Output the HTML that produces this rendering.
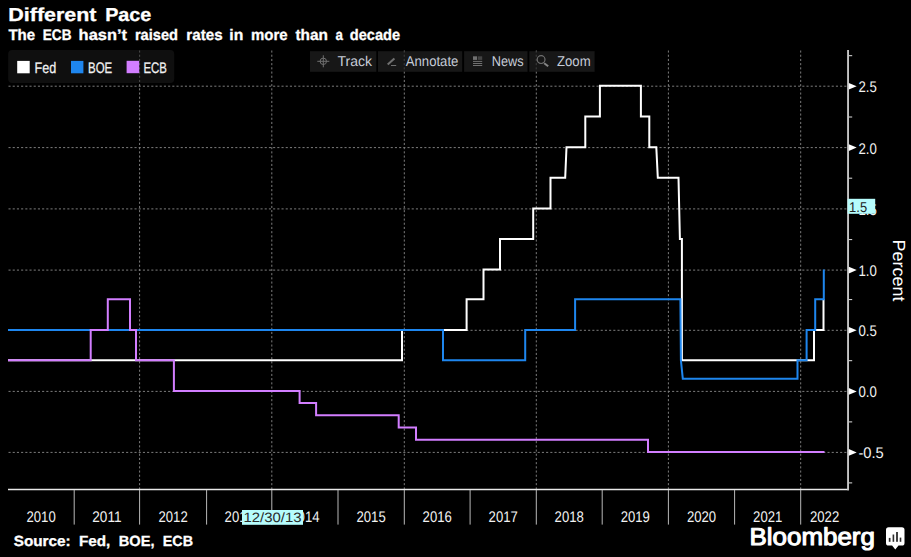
<!DOCTYPE html>
<html><head><meta charset="utf-8"><title>Different Pace</title>
<style>
html,body{margin:0;padding:0;background:#000;}
body{width:911px;height:557px;overflow:hidden;font-family:"Liberation Sans",sans-serif;}
svg{display:block;}
text{font-family:"Liberation Sans",sans-serif;text-rendering:geometricPrecision;}
</style></head><body>
<svg width="911" height="557" viewBox="0 0 911 557">
<rect width="911" height="557" fill="#000"/>

<rect x="8.2" y="50" width="166" height="33" rx="4" ry="4" fill="#0f0f0f"/>
<rect x="310" y="51.2" width="66.3" height="20.6" fill="#171717"/>
<rect x="378" y="51.2" width="84.2" height="20.6" fill="#171717"/>
<rect x="464.1" y="51.2" width="63.4" height="20.6" fill="#171717"/>
<rect x="529.3" y="51.2" width="65.3" height="20.6" fill="#171717"/>
<g stroke="#7c7c7c" stroke-width="1" stroke-dasharray="2.1 2.1" fill="none">
<path d="M8.5 86.2H848"/>
<path d="M8.5 147.6H848"/>
<path d="M8.5 208.9H848"/>
<path d="M8.5 270.1H848"/>
<path d="M8.5 330.3H848"/>
<path d="M8.5 391.4H848"/>
<path d="M8.5 452.4H848"/>
<path d="M139.6 50.5V489"/>
<path d="M271.8 50.5V489"/>
<path d="M404.3 50.5V489"/>
<path d="M536.3 50.5V489"/>
<path d="M668.4 50.5V489"/>
<path d="M800.7 50.5V489"/>
</g>
<rect x="403.3" y="51.2" width="2" height="20.6" fill="#171717" opacity="0.65"/><rect x="535.3" y="51.2" width="2" height="20.6" fill="#171717" opacity="0.65"/><rect x="138.6" y="50" width="2" height="33" fill="#0f0f0f" opacity="0.45"/>
<path d="M8.0 360.3H402.0V329.9H466.6V299.2H483.5V269.6H500.0V239.1H533.2V208.4H550.5V177.7H565.2L566.5 147.2H585.3V116.6H599.9V85.8H640.9V116.6H649.3V147.2H656.3L657.8 177.7H678.5L679.9 239.1H681.9V360.3H814.0V329.9H823.5V299.2" fill="none" stroke="#ffffff" stroke-width="2"/>
<path d="M8.0 329.9H443.0V360.3H525.2V329.9H575.1V299.2H680.4L680.9 360.3L682.8 378.7H797.5V360.3H806.6V329.9H815.2V299.2H823.8V269.6" fill="none" stroke="#1e86ee" stroke-width="2"/>
<path d="M8.0 360.3H90.7V329.9H107.8V299.2H130.0V329.9H136.0V360.3H173.9V391.0H299.6V403.1H316.1V415.3H398.7V427.5H416.0V439.7H648.0V451.9H824.5" fill="none" stroke="#d27eff" stroke-width="2"/>
<path d="M8 489.5H849" stroke="#e8e8e8" stroke-width="1.4" fill="none"/>
<path d="M848.05 50V490.2" stroke="#c4c4c4" stroke-width="1.9" fill="none"/>
<g stroke="#b8b8b8" stroke-width="1" fill="none">
<path d="M74.2 490V524.6"/>
<path d="M139.6 490V524.6"/>
<path d="M206.6 490V524.6"/>
<path d="M271.8 490V524.6"/>
<path d="M338.0 490V524.6"/>
<path d="M404.3 490V524.6"/>
<path d="M470.1 490V524.6"/>
<path d="M536.3 490V524.6"/>
<path d="M602.2 490V524.6"/>
<path d="M668.4 490V524.6"/>
<path d="M734.6 490V524.6"/>
<path d="M800.7 490V524.6"/>
</g>
<g stroke="#e0e0e0" stroke-width="1" fill="none">
<path d="M849 55.7H852.2"/>
<path d="M849 117.0H852.2"/>
<path d="M849 178.2H852.2"/>
<path d="M849 239.6H852.2"/>
<path d="M849 299.6H852.2"/>
<path d="M849 360.7H852.2"/>
<path d="M849 421.9H852.2"/>
<path d="M849 482.9H852.2"/>
</g>
<path d="M848.8 82.9L856.7 86.2L848.8 89.5Z" fill="#fff"/>
<text x="858.4" y="92.1" font-size="15.4" fill="#f2f2f2" textLength="18.4" lengthAdjust="spacingAndGlyphs">2.5</text>
<path d="M848.8 144.3L856.7 147.6L848.8 150.9Z" fill="#fff"/>
<text x="858.4" y="153.5" font-size="15.4" fill="#f2f2f2" textLength="18.4" lengthAdjust="spacingAndGlyphs">2.0</text>
<path d="M848.8 205.6L856.7 208.9L848.8 212.2Z" fill="#fff"/>
<text x="858.4" y="214.8" font-size="15.4" fill="#f2f2f2" textLength="18.4" lengthAdjust="spacingAndGlyphs">1.5</text>
<path d="M848.8 266.8L856.7 270.1L848.8 273.4Z" fill="#fff"/>
<text x="858.4" y="276.0" font-size="15.4" fill="#f2f2f2" textLength="18.4" lengthAdjust="spacingAndGlyphs">1.0</text>
<path d="M848.8 327.0L856.7 330.3L848.8 333.6Z" fill="#fff"/>
<text x="858.4" y="336.2" font-size="15.4" fill="#f2f2f2" textLength="18.4" lengthAdjust="spacingAndGlyphs">0.5</text>
<path d="M848.8 388.1L856.7 391.4L848.8 394.8Z" fill="#fff"/>
<text x="858.4" y="397.3" font-size="15.4" fill="#f2f2f2" textLength="18.4" lengthAdjust="spacingAndGlyphs">0.0</text>
<path d="M848.8 449.1L856.7 452.4L848.8 455.7Z" fill="#fff"/>
<text x="858.4" y="458.3" font-size="15.4" fill="#f2f2f2" textLength="25.4" lengthAdjust="spacingAndGlyphs">-0.5</text>
<rect x="847.6" y="198.8" width="27.6" height="15" fill="#b6fcfc"/>
<text x="849.1" y="211.8" font-size="14.1" fill="#222" textLength="18.0" lengthAdjust="spacingAndGlyphs">1.5</text>
<text transform="translate(892.9 239.5) rotate(90)" font-size="17.5" fill="#fff" textLength="62" lengthAdjust="spacingAndGlyphs">Percent</text>
<text x="26.5" y="521.8" font-size="15.4" fill="#f2f2f2" textLength="29.2" lengthAdjust="spacingAndGlyphs">2010</text>
<text x="92.3" y="521.8" font-size="15.4" fill="#f2f2f2" textLength="29.2" lengthAdjust="spacingAndGlyphs">2011</text>
<text x="158.5" y="521.8" font-size="15.4" fill="#f2f2f2" textLength="29.2" lengthAdjust="spacingAndGlyphs">2012</text>
<text x="224.6" y="521.8" font-size="15.4" fill="#f2f2f2" textLength="29.2" lengthAdjust="spacingAndGlyphs">2013</text>
<text x="290.3" y="521.8" font-size="15.4" fill="#f2f2f2" textLength="29.2" lengthAdjust="spacingAndGlyphs">2014</text>
<text x="356.5" y="521.8" font-size="15.4" fill="#f2f2f2" textLength="29.2" lengthAdjust="spacingAndGlyphs">2015</text>
<text x="422.6" y="521.8" font-size="15.4" fill="#f2f2f2" textLength="29.2" lengthAdjust="spacingAndGlyphs">2016</text>
<text x="488.6" y="521.8" font-size="15.4" fill="#f2f2f2" textLength="29.2" lengthAdjust="spacingAndGlyphs">2017</text>
<text x="554.6" y="521.8" font-size="15.4" fill="#f2f2f2" textLength="29.2" lengthAdjust="spacingAndGlyphs">2018</text>
<text x="620.7" y="521.8" font-size="15.4" fill="#f2f2f2" textLength="29.2" lengthAdjust="spacingAndGlyphs">2019</text>
<text x="686.9" y="521.8" font-size="15.4" fill="#f2f2f2" textLength="29.2" lengthAdjust="spacingAndGlyphs">2020</text>
<text x="753.1" y="521.8" font-size="15.4" fill="#f2f2f2" textLength="29.2" lengthAdjust="spacingAndGlyphs">2021</text>
<text x="810.0" y="521.8" font-size="15.4" fill="#f2f2f2" textLength="29.2" lengthAdjust="spacingAndGlyphs">2022</text>
<rect x="242" y="510" width="61" height="14.8" fill="#b6fcfc"/>
<text x="243.4" y="522.2" font-size="13.6" fill="#2a2a2a" textLength="58.2" lengthAdjust="spacingAndGlyphs">12/30/13</text>
<text x="8.3" y="21.1" font-size="18.8" font-weight="bold" stroke="#fff" stroke-width="0.3" fill="#fff" textLength="88.2" lengthAdjust="spacingAndGlyphs">Different</text>
<text x="105.2" y="21.1" font-size="18.8" font-weight="bold" stroke="#fff" stroke-width="0.3" fill="#fff" textLength="46.1" lengthAdjust="spacingAndGlyphs">Pace</text>
<text x="8.4" y="39.5" font-size="15.3" font-weight="bold" stroke="#fff" stroke-width="0.3" fill="#fff" textLength="26.8" lengthAdjust="spacingAndGlyphs">The</text>
<text x="42.8" y="39.5" font-size="15.3" font-weight="bold" stroke="#fff" stroke-width="0.3" fill="#fff" textLength="28.7" lengthAdjust="spacingAndGlyphs">ECB</text>
<text x="78.6" y="39.5" font-size="15.3" font-weight="bold" stroke="#fff" stroke-width="0.3" fill="#fff" textLength="48.4" lengthAdjust="spacingAndGlyphs">hasn’t</text>
<text x="134.9" y="39.5" font-size="15.3" font-weight="bold" stroke="#fff" stroke-width="0.3" fill="#fff" textLength="43.1" lengthAdjust="spacingAndGlyphs">raised</text>
<text x="186.3" y="39.5" font-size="15.3" font-weight="bold" stroke="#fff" stroke-width="0.3" fill="#fff" textLength="36.3" lengthAdjust="spacingAndGlyphs">rates</text>
<text x="229.3" y="39.5" font-size="15.3" font-weight="bold" stroke="#fff" stroke-width="0.3" fill="#fff" textLength="14.0" lengthAdjust="spacingAndGlyphs">in</text>
<text x="251.0" y="39.5" font-size="15.3" font-weight="bold" stroke="#fff" stroke-width="0.3" fill="#fff" textLength="36.6" lengthAdjust="spacingAndGlyphs">more</text>
<text x="295.4" y="39.5" font-size="15.3" font-weight="bold" stroke="#fff" stroke-width="0.3" fill="#fff" textLength="32.5" lengthAdjust="spacingAndGlyphs">than</text>
<text x="335.5" y="39.5" font-size="15.3" font-weight="bold" stroke="#fff" stroke-width="0.3" fill="#fff" textLength="7.4" lengthAdjust="spacingAndGlyphs">a</text>
<text x="349.8" y="39.5" font-size="15.3" font-weight="bold" stroke="#fff" stroke-width="0.3" fill="#fff" textLength="50.3" lengthAdjust="spacingAndGlyphs">decade</text>
<rect x="17.2" y="60.9" width="12.5" height="12.4" fill="#fff"/>
<rect x="71" y="60.9" width="12.4" height="12.4" fill="#1e86ee"/>
<rect x="126.6" y="60.8" width="12.6" height="12.4" fill="#d27eff"/>
<text x="34.5" y="73.2" font-size="15.3" fill="#f2f2f2" textLength="21.7" lengthAdjust="spacingAndGlyphs" stroke="#f2f2f2" stroke-width="0.25">Fed</text>
<text x="88.0" y="73.2" font-size="15.3" fill="#f2f2f2" textLength="24.2" lengthAdjust="spacingAndGlyphs" stroke="#f2f2f2" stroke-width="0.25">BOE</text>
<text x="143.5" y="73.2" font-size="15.3" fill="#f2f2f2" textLength="23.4" lengthAdjust="spacingAndGlyphs" stroke="#f2f2f2" stroke-width="0.25">ECB</text>
<text x="337.4" y="65.8" font-size="14.3" fill="#c6ccd8" textLength="34.6" lengthAdjust="spacingAndGlyphs">Track</text>
<text x="405.8" y="65.8" font-size="14.3" fill="#c6ccd8" textLength="52.6" lengthAdjust="spacingAndGlyphs">Annotate</text>
<text x="491.8" y="65.8" font-size="14.3" fill="#c6ccd8" textLength="31.8" lengthAdjust="spacingAndGlyphs">News</text>
<text x="557.0" y="65.8" font-size="14.3" fill="#c6ccd8" textLength="33.6" lengthAdjust="spacingAndGlyphs">Zoom</text>
<g stroke="#707070" stroke-width="1" fill="none"><circle cx="323.3" cy="61.3" r="3.2"/><path d="M317.3 61.3H329.3M323.3 55.3V67.3"/></g>
<g stroke="#707070" fill="none"><path d="M387.7 64.6L394.4 58.4" stroke-width="2"/><path d="M391 65.5H396.2" stroke-width="1"/></g>
<g fill="#707070"><rect x="473" y="56.3" width="4.1" height="3.6"/><rect x="477.9" y="56.3" width="4.3" height="3.6" opacity="0.5"/><rect x="473" y="60.9" width="9.2" height="1"/><rect x="473" y="63" width="9.2" height="1"/><rect x="473" y="65" width="9.2" height="1"/></g>
<g stroke="#707070" fill="none"><circle cx="541.1" cy="59.6" r="3.9" stroke-width="1.2"/><path d="M544.2 63.2L548.2 66.3" stroke-width="2" stroke="#858585"/></g>
<text x="13.7" y="545.7" font-size="14.7" font-weight="bold" stroke="#fff" stroke-width="0.3" fill="#fff" textLength="57.0" lengthAdjust="spacingAndGlyphs">Source:</text>
<text x="79.0" y="545.7" font-size="14.7" font-weight="bold" stroke="#fff" stroke-width="0.3" fill="#fff" textLength="31.3" lengthAdjust="spacingAndGlyphs">Fed,</text>
<text x="118.7" y="545.7" font-size="14.7" font-weight="bold" stroke="#fff" stroke-width="0.3" fill="#fff" textLength="35.8" lengthAdjust="spacingAndGlyphs">BOE,</text>
<text x="162.8" y="545.7" font-size="14.7" font-weight="bold" stroke="#fff" stroke-width="0.3" fill="#fff" textLength="30.3" lengthAdjust="spacingAndGlyphs">ECB</text>
<text x="749.5" y="545.4" font-size="24.4" fill="#fff" stroke="#fff" stroke-width="1.05" stroke-linejoin="round" textLength="125.4" lengthAdjust="spacingAndGlyphs">Bloomberg</text>
<path d="M888.6 527.2H901.9Q904.5 527.2 904.5 529.8V543Q904.5 545.6 901.9 545.6H898.5L895.3 549.4L892.1 545.6H888.6Q886 545.6 886 543V529.8Q886 527.2 888.6 527.2Z" fill="#fff"/>
<g fill="#2e2e2e"><rect x="888.8" y="537.9" width="1.7" height="3.9"/><rect x="892.6" y="534.5" width="1.6" height="7.3"/><rect x="896.1" y="532" width="1.8" height="9.8"/><rect x="899.7" y="537.6" width="1.6" height="4.2"/></g>
</svg></body></html>
